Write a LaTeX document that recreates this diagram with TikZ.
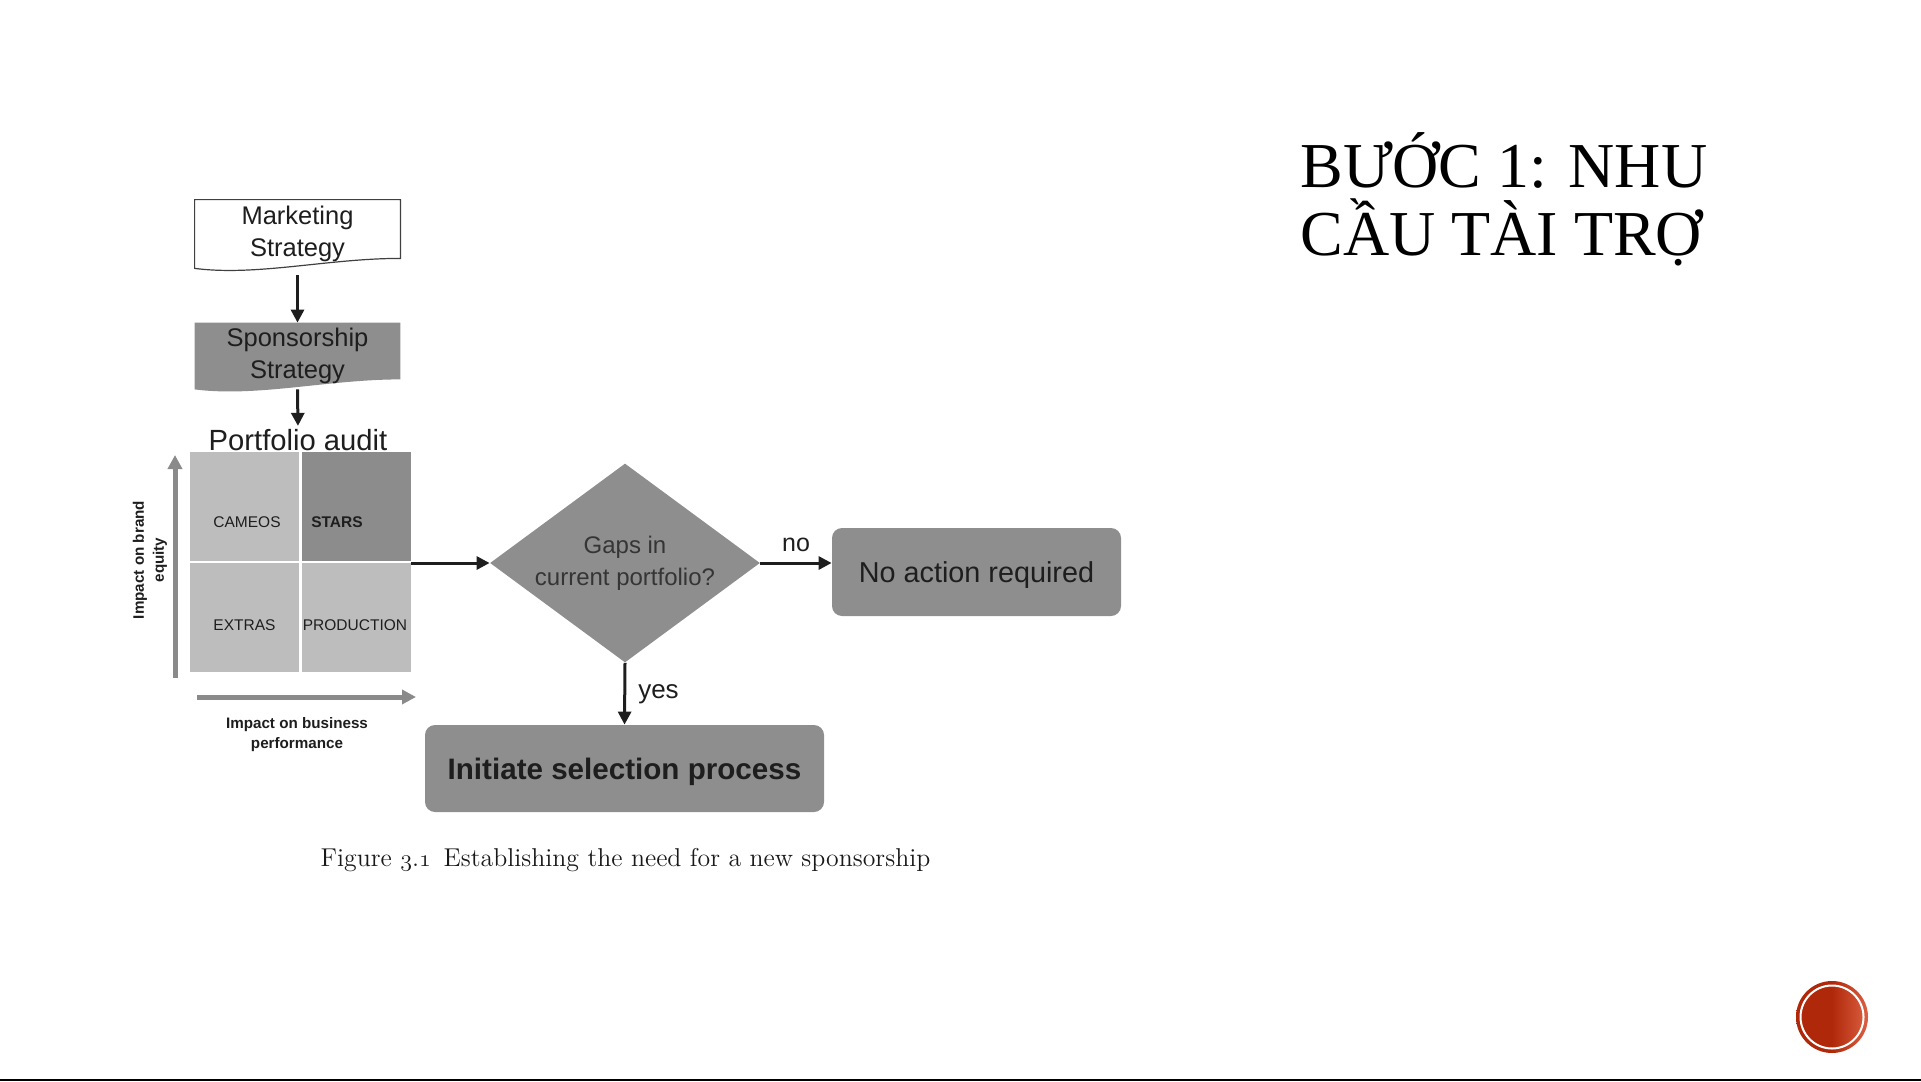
\documentclass[tikz,border=0pt]{standalone}
\usepackage{fontspec}
\usepackage{xcolor}
\newfontfamily\sansf{Liberation Sans}
\newfontfamily\titlef{Liberation Serif}
\usetikzlibrary{arrows.meta, calc, shapes.geometric, backgrounds}
\newcommand{\osnum}[1]{{\usefont{OML}{cmm}{m}{it}#1}}

\definecolor{boxgray}{HTML}{8E8E8E}
\definecolor{quadgray}{HTML}{BDBDBD}
\definecolor{stargray}{HTML}{8C8C8C}
\definecolor{axisgray}{HTML}{8A8A8A}
\definecolor{inkdark}{HTML}{1E1E1E}
\definecolor{btnred}{RGB}{176,40,10}
\definecolor{btnlight}{RGB}{220,96,66}

\begin{document}
\begin{tikzpicture}[x=0.5pt, y=-0.5pt,
  flow/.style={draw=inkdark, line width=1.5pt, -{Triangle[length=6.5pt,width=6.5pt]}},
  axis/.style={draw=axisgray, line width=2.5pt, -{Triangle[length=7pt,width=7pt]}},
  stratlbl/.style={font=\sansf\fontsize{12.75}{15.75}\selectfont, align=center, text=inkdark, inner sep=0pt},
  quad/.style={fill=quadgray, minimum width=54.5pt, minimum height=54.5pt, inner sep=0pt},
  quadlbl/.style={font=\sansf\fontsize{7.75}{9}\selectfont, text=inkdark, inner sep=0pt},
  roundbox/.style={fill=boxgray, rounded corners=5pt, inner sep=0pt, text=inkdark, text depth=0pt},
  axislbl/.style={font=\sansf\bfseries\fontsize{7.6}{10}\selectfont, align=center, text=inkdark, inner sep=0pt}]

\useasboundingbox (0,0) rectangle (1921,1081);

% strategy boxes
\node[stratlbl, minimum width=102.5pt, minimum height=34pt] (mkt) at (297.5,234) {Marketing\\Strategy};
\node[stratlbl, minimum width=102.5pt, minimum height=33pt] (spons) at (297.5,356) {Sponsorship\\Strategy};
\begin{pgfonlayer}{background}
  \draw[draw=black!75, line width=0.6pt, fill=white] (mkt.south west) -- (mkt.north west) -- (mkt.north east)
    -- ($(mkt.south east)+(0,-10)$) .. controls ($(mkt.south)+(30,-10)$) and ($(mkt.south)+(-40,8)$) .. (mkt.south west) -- cycle;
  \fill[boxgray] (spons.south west) -- (spons.north west) -- (spons.north east)
    -- ($(spons.south east)+(0,-10)$) .. controls ($(spons.south)+(30,-10)$) and ($(spons.south)+(-40,8)$) .. (spons.south west) -- cycle;
\end{pgfonlayer}
\node[font=\sansf\fontsize{14.6}{17}\selectfont, text=inkdark, inner sep=0pt] (audit) at (298,440) {Portfolio audit};
\draw[flow, shorten <=3.5pt] (mkt.south) -- (spons.north);
\draw[flow, shorten >=1.5pt] (spons.south) -- (audit.north);

% portfolio grid
\node[quad] (cameo) at (244.5,506.5) {};
\node[quad, fill=stargray] (stars) at (356.5,506.5) {};
\node[quad] (extras) at (244.5,617) {};
\node[quad] (prod) at (356.5,617) {};
\node[quadlbl] (lcameo) at (247,522) {CAMEOS};
\node[quadlbl, font=\sansf\bfseries\fontsize{7.75}{9}\selectfont] (lstars) at (337,522) {STARS};
\node[quadlbl] (lextras) at (244.5,625) {EXTRAS};
\node[quadlbl] (lprod) at (355,625) {PRODUCTION};

% axes
\coordinate (ybot) at (175,678);
\coordinate (ytop) at (175,455);
\coordinate (xleft) at (197,697);
\coordinate (xright) at (416,697);
\draw[axis] (ybot) -- (ytop);
\draw[axis] (xleft) -- (xright);
\node[axislbl, rotate=90] (ylbl) at (150,560) {Impact on brand\\equity};
\node[axislbl] (xlbl) at (297,735) {Impact on business\\performance};

% decision
\node[diamond, fill=boxgray, aspect=1.36, inner sep=0pt, minimum width=135pt, minimum height=99.5pt, align=center,
  font=\sansf\fontsize{12}{16}\selectfont, text=inkdark!90] (gap) at (625,563) {Gaps in\\current portfolio?};
\draw[flow] (stars.south east |- gap.west) -- (gap.west);

\node[roundbox, minimum width=144.5pt, minimum height=44pt, font=\sansf\fontsize{14.4}{17}\selectfont] (noact) at (976.5,572) {No action required};
\draw[flow] (gap.east) -- (gap.east -| noact.west)
  node[midway, above, inner sep=5pt, font=\sansf\fontsize{12.5}{15}\selectfont, text=inkdark] (nolbl) {no};

\node[roundbox, minimum width=199.5pt, minimum height=43.5pt, font=\sansf\bfseries\fontsize{14.8}{17}\selectfont] (init) at (624.5,768.5) {Initiate selection process};
\draw[flow] (gap.south) -- (init.north)
  node[pos=0.5, right, inner sep=6pt, font=\sansf\fontsize{13}{15}\selectfont, text=inkdark] (yeslbl) {yes};

% caption and title
\node[font=\fontsize{12.9}{15}\selectfont, text=black!90] (cap) at (625.5,860)
  {Figure \osnum{3}.\osnum{1}\enspace Establishing the need for a new sponsorship};
\node[font=\titlef\fontsize{32}{34}\selectfont, anchor=base west, inner sep=0pt] (ttl1) at (1300,187) {BƯỚC 1: NHU};
\node[font=\titlef\fontsize{32}{34}\selectfont, anchor=base west, inner sep=0pt] (ttl2) at (1300,255) {CẦU TÀI TRỢ};

% slide button and rule
\coordinate (btn) at (1832,1017);
\shade[left color=btnred, right color=btnlight, middle color=btnred] (btn) circle[radius=36];
\draw[white, line width=1pt] (btn) circle[radius=31.5];
\draw[line width=1pt] (0,1080) -- (1921,1080);
\end{tikzpicture}
\end{document}
